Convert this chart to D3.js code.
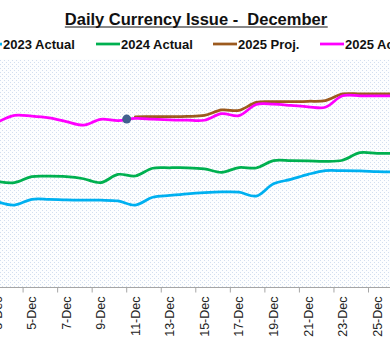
<!DOCTYPE html>
<html>
<head>
<meta charset="utf-8">
<script src="https://cdn.jsdelivr.net/npm/d3@7"></script>
<style>
  html, body { margin: 0; padding: 0; background: #fff; }
  svg { display: block; font-family: Arial, "Liberation Sans", sans-serif; }
</style>
</head>
<body>
<svg id="chart" width="390" height="354"></svg>
<script>
// days of December shown on the axis
var days = d3.range(3, 27);
var tickLabels = ["3-Dec", "5-Dec", "7-Dec", "9-Dec", "11-Dec", "13-Dec", "15-Dec",
                  "17-Dec", "19-Dec", "21-Dec", "23-Dec", "25-Dec"];

// series values (no y axis visible)
var actual2023 = [37.6, 36.1, 38.6, 38.6, 38.3, 38.2, 38.2, 37.9, 36.1, 39.5, 40.3, 41.0,
                  41.5, 41.8, 41.7, 40.0, 45.4, 47.3, 49.5, 51.1, 51.1, 51.0, 50.7, 50.5];
var actual2024 = [46.4, 45.9, 48.5, 48.7, 48.5, 47.6, 45.9, 49.5, 48.8, 52.2, 52.4, 52.4,
                  51.9, 50.4, 52.5, 52.3, 55.5, 55.5, 55.4, 55.2, 55.7, 59.0, 58.7, 58.7];
var actual2025 = [72.2, 75.3, 75.0, 74.2, 72.6, 71.1, 73.6, 73.0, 74.0, 73.7, 73.4, 73.2,
                  73.2, 76.1, 75.2, 80.1, 80.2, 79.7, 79.1, 78.9, 83.9, 83.9, 83.9, 83.9];
// projection starts on 11-Dec
var projDays = d3.range(11, 27);
var proj2025 = [74.7, 74.8, 74.8, 74.9, 75.3, 77.7, 77.5, 81.0, 81.3, 81.3, 81.5, 81.8,
                84.7, 84.7, 84.7, 84.7];
// single marker point
var markerDay = 10.5;
var markerValue = 73.7;

var svg = d3.select("#chart");

// dotted fill for the plot area
var defs = svg.append("defs");
var pat = defs.append("pattern")
  .attr("id", "dots")
  .attr("width", 4).attr("height", 4)
  .attr("patternUnits", "userSpaceOnUse");
pat.append("rect").attr("width", 4).attr("height", 4).attr("fill", "#fdfeff");
pat.append("rect").attr("x", 0).attr("y", 0).attr("width", 1).attr("height", 1).attr("fill", "#d3deef");
pat.append("rect").attr("x", 2).attr("y", 2).attr("width", 1).attr("height", 1).attr("fill", "#d3deef");

var plotTop = 59, plotBottom = 287.5;

svg.append("rect")
  .attr("x", 0).attr("y", plotTop)
  .attr("width", 390).attr("height", plotBottom - plotTop)
  .attr("fill", "url(#dots)");

// scales
var x = d3.scaleLinear().domain([0.5, 31.5]).range([-46, 489.4]);
var y = d3.scaleLinear().domain([0, 100]).range([plotBottom, plotBottom - 228.5]);

// x axis: ticks between categories every 2 days, labels on odd days
var axisG = svg.append("g").attr("transform", "translate(0," + plotBottom + ")");
axisG.append("line")
  .attr("x1", 0).attr("x2", 390)
  .attr("stroke", "#a6a6a6").attr("stroke-width", 1);
axisG.selectAll("line.tick")
  .data(d3.range(2.5, 27, 2))
  .enter().append("line")
  .attr("class", "tick")
  .attr("x1", function (d) { return x(d); })
  .attr("x2", function (d) { return x(d); })
  .attr("y1", 0).attr("y2", 5)
  .attr("stroke", "#a6a6a6");
axisG.selectAll("text")
  .data(tickLabels)
  .enter().append("text")
  .attr("transform", function (d, i) {
    return "translate(" + (x(3 + i * 2) + 4.5) + ",9) rotate(-90)";
  })
  .attr("text-anchor", "end")
  .attr("font-size", 12.5)
  .attr("fill", "#222")
  .text(function (d) { return d; });

// lines
var line = d3.line()
  .x(function (d) { return x(d[0]); })
  .y(function (d) { return y(d[1]); })
  .curve(d3.curveCatmullRom.alpha(0.5));

function drawSeries(xs, vals, color) {
  svg.append("path")
    .datum(xs.map(function (d, i) { return [d, vals[i]]; }))
    .attr("d", line)
    .attr("fill", "none")
    .attr("stroke", color)
    .attr("stroke-width", 2.75)
    .attr("stroke-linejoin", "round")
    .attr("stroke-linecap", "round");
}

drawSeries(days, actual2023, "#00b0f0");
drawSeries(days, actual2024, "#00b050");
drawSeries(projDays, proj2025, "#9c5a1e");
drawSeries(days, actual2025, "#ff00ff");

svg.append("circle")
  .attr("cx", x(markerDay))
  .attr("cy", y(markerValue))
  .attr("r", 4.5)
  .attr("fill", "#41608f");

// title
var title = svg.append("text")
  .attr("x", 196).attr("y", 24.5)
  .attr("text-anchor", "middle")
  .attr("font-size", 16.5)
  .attr("font-weight", "bold")
  .attr("fill", "#111")
  .attr("xml:space", "preserve")
  .text("Daily Currency Issue -  December");
var tb = title.node().getBBox();
svg.append("line")
  .attr("x1", tb.x).attr("x2", tb.x + tb.width)
  .attr("y1", 27).attr("y2", 27)
  .attr("stroke", "#111").attr("stroke-width", 1.2);

// legend
var legendItems = [
  { name: "2023 Actual", color: "#00b0f0", x0: -22 },
  { name: "2024 Actual", color: "#00b050", x0: 96 },
  { name: "2025 Proj.", color: "#9c5a1e", x0: 213 },
  { name: "2025 Actual", color: "#ff00ff", x0: 320 }
];
var lg = svg.selectAll("g.legend")
  .data(legendItems)
  .enter().append("g")
  .attr("class", "legend")
  .attr("transform", function (d) { return "translate(" + d.x0 + ",44)"; });
lg.append("line")
  .attr("x1", 0).attr("x2", 24)
  .attr("stroke", function (d) { return d.color; })
  .attr("stroke-width", 2.75);
lg.append("text")
  .attr("x", 25).attr("y", 4.5)
  .attr("font-size", 13)
  .attr("font-weight", "bold")
  .attr("fill", "#111")
  .text(function (d) { return d.name; });
</script>
</body>
</html>
